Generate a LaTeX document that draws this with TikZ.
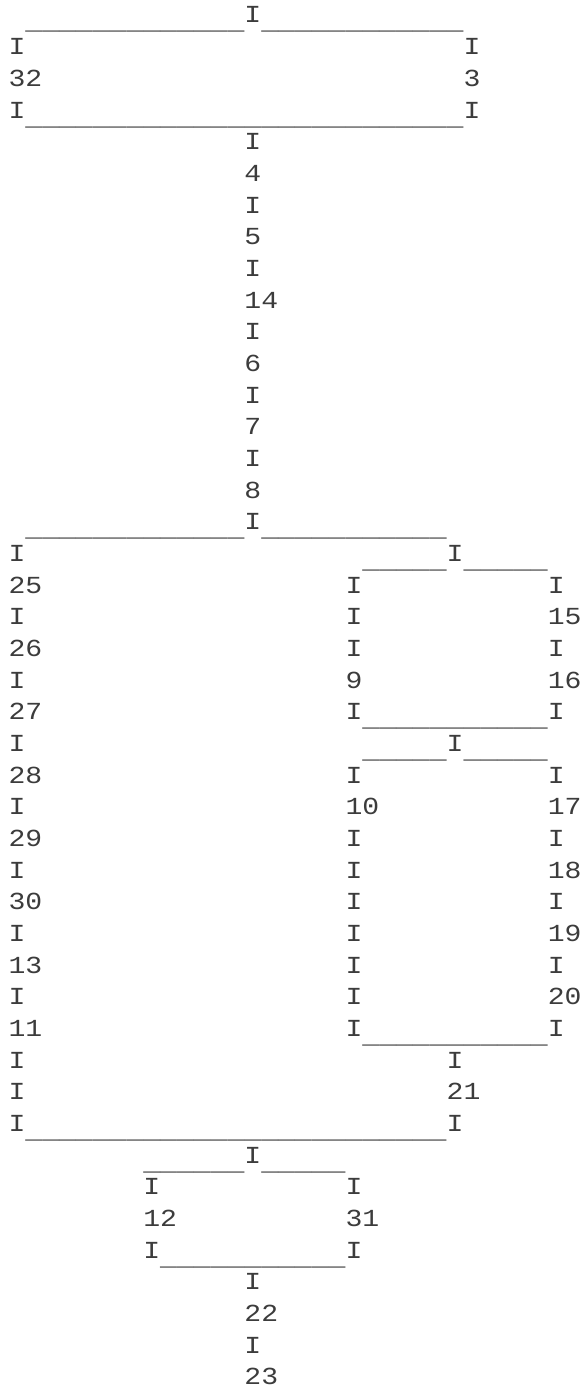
\documentclass[tikz,border=0pt]{standalone}
\usepackage{fontspec}
\setmonofont[FakeStretch=1.146]{Liberation Mono}
\definecolor{ink}{HTML}{3C3C3C}
\newcommand{\bars}[1]{\foreach\n in {1,...,#1}{\_}}

\begin{document}
\begin{tikzpicture}[x=16.85pt, y=-31.67pt,
    ch/.style={anchor=base west, inner sep=0pt, outer sep=0pt, text=ink,
      font=\ttfamily\fontsize{24.5}{31.7}\selectfont},
    bar/.style={ch, yshift=-7pt},
  ]
  \useasboundingbox (-0.51,0.274) rectangle (34.09,44.23);

  % Top loop
  \node[bar] (top-bar1) at (1,1)  {\bars{13}};
  \node[ch]  (top-in)   at (14,1) {I};
  \node[bar] (top-bar2) at (15,1) {\bars{12}};
  \foreach \t [count=\r from 2] in {I,32,I}
    \node[ch] (top-l\r) at (0,\r) {\t};
  \foreach \t [count=\r from 2] in {I,3,I}
    \node[ch] (top-r\r) at (27,\r) {\t};
  \node[bar] (top-bar3) at (1,4) {\bars{26}};

  % Trunk
  \foreach \t [count=\r from 5] in {I,4,I,5,I,14,I,6,I,7,I,8}
    \node[ch] (trunk-\r) at (14,\r) {\t};

  % Split into two branches
  \node[bar] (split-bar1) at (1,17)  {\bars{13}};
  \node[ch]  (split-in)   at (14,17) {I};
  \node[bar] (split-bar2) at (15,17) {\bars{11}};

  % Left branch
  \foreach \t [count=\r from 18] in {I,25,I,26,I,27,I,28,I,29,I,30,I,13,I,11,I,I,I}
    \node[ch] (left-\r) at (0,\r) {\t};
  \node[bar] (left-bar) at (1,36)  {\bars{25}};
  \node[ch]  (left-out) at (26,36) {I};

  % Right branch, upper loop
  \node[bar] (up-bar1) at (21,18) {\bars{5}};
  \node[ch]  (up-in)   at (26,18) {I};
  \node[bar] (up-bar2) at (27,18) {\bars{5}};
  \foreach \t [count=\r from 19] in {I,I,I,9,I}
    \node[ch] (up-l\r) at (20,\r) {\t};
  \foreach \t [count=\r from 19] in {I,15,I,16,I}
    \node[ch] (up-r\r) at (32,\r) {\t};
  \node[bar] (up-bar3) at (21,23) {\bars{11}};

  % Right branch, lower loop
  \node[bar] (lo-bar1) at (21,24) {\bars{5}};
  \node[ch]  (lo-in)   at (26,24) {I};
  \node[bar] (lo-bar2) at (27,24) {\bars{5}};
  \foreach \t [count=\r from 25] in {I,10,I,I,I,I,I,I,I}
    \node[ch] (lo-l\r) at (20,\r) {\t};
  \foreach \t [count=\r from 25] in {I,17,I,18,I,19,I,20,I}
    \node[ch] (lo-r\r) at (32,\r) {\t};
  \node[bar] (lo-bar3) at (21,33) {\bars{11}};
  \foreach \t [count=\r from 34] in {I,21}
    \node[ch] (lo-out\r) at (26,\r) {\t};

  % Bottom loop and tail
  \node[bar] (bot-bar1) at (8,37)  {\bars{6}};
  \node[ch]  (bot-in)   at (14,37) {I};
  \node[bar] (bot-bar2) at (15,37) {\bars{5}};
  \foreach \t [count=\r from 38] in {I,12,I}
    \node[ch] (bot-l\r) at (8,\r) {\t};
  \foreach \t [count=\r from 38] in {I,31,I}
    \node[ch] (bot-r\r) at (20,\r) {\t};
  \node[bar] (bot-bar3) at (9,40) {\bars{11}};
  \foreach \t [count=\r from 41] in {I,22,I,23}
    \node[ch] (tail-\r) at (14,\r) {\t};
\end{tikzpicture}
\end{document}
